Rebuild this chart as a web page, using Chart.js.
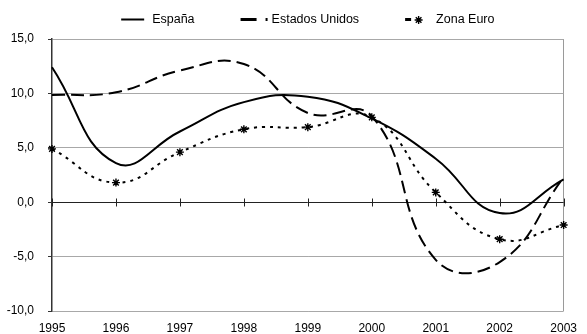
<!DOCTYPE html>
<html>
<head>
<meta charset="utf-8">
<script src="https://cdn.jsdelivr.net/npm/chart.js@4"></script>
<style>
  body { margin: 0; background: #fff; }
  canvas { display: block; }
</style>
</head>
<body>
<canvas id="chart" width="587" height="334"></canvas>
<script>
const years = ['1995', '1996', '1997', '1998', '1999', '2000', '2001', '2002', '2003'];
const espana = [12.4, 3.6, 6.5, 9.2, 9.7, 7.7, 4.0, -1.0, 2.1];
const estadosUnidos = [9.85, 10.1, 12.1, 12.7, 8.2, 7.9, -5.3, -5.5, 2.3];
const zonaEuro = [4.9, 1.8, 4.6, 6.7, 6.9, 7.8, 0.9, -3.4, -2.1];

const FONT = "'Liberation Sans', Arial, sans-serif";

// zero line across the plot with year ticks crossing it
const zeroAxis = {
    id: 'zeroAxis',
    beforeDatasetsDraw(chart) {
        const { ctx, chartArea, scales: { x, y } } = chart;
        const y0 = Math.round(y.getPixelForValue(0)) + 0.5;
        ctx.save();
        ctx.strokeStyle = '#222';
        ctx.lineWidth = 1;
        ctx.beginPath();
        ctx.moveTo(chartArea.left, y0);
        ctx.lineTo(chartArea.right, y0);
        x.ticks.forEach((t, i) => {
            const px = Math.round(x.getPixelForTick(i)) + 0.5;
            ctx.moveTo(px, y0 - 4);
            ctx.lineTo(px, y0 + 4);
        });
        ctx.stroke();
        ctx.restore();
    }
};

// one-row legend above the plot, centred on the chart area
const legendRow = {
    id: 'legendRow',
    afterDraw(chart) {
        const { ctx, chartArea } = chart;
        const sample = 27, textGap = 4, itemGap = 46, midY = 20;
        ctx.save();
        ctx.font = '12.5px ' + FONT;
        ctx.textBaseline = 'middle';
        ctx.fillStyle = '#000';
        const items = chart.data.datasets.map(ds => ({ ds, w: sample + textGap + ctx.measureText(ds.label).width }));
        const total = items.reduce((s, it) => s + it.w, 0) + itemGap * (items.length - 1);
        let x0 = (chartArea.left + chartArea.right) / 2 - total / 2;
        items.forEach(({ ds, w }) => {
            ctx.strokeStyle = ds.borderColor;
            ctx.lineWidth = ds.legendLineWidth || ds.borderWidth;
            ctx.setLineDash(ds.legendDash || ds.borderDash || []);
            ctx.beginPath();
            ctx.moveTo(x0, midY - 0.5);
            ctx.lineTo(x0 + (ds.legendLineLength || sample - 4), midY - 0.5);
            ctx.stroke();
            ctx.setLineDash([]);
            if (ds.pointStyle) {
                ctx.lineWidth = ds.pointBorderWidth;
                Chart.helpers.drawPoint(ctx, {
                    pointStyle: ds.pointStyle,
                    radius: ds.pointRadius,
                    borderWidth: ds.pointBorderWidth,
                    rotation: 0
                }, x0 + 13.5, midY);
            }
            ctx.fillText(ds.label, x0 + sample + textGap, midY);
            x0 += w + itemGap;
        });
        ctx.restore();
    }
};

const fmt = v => v.toFixed(1).replace('.', ',');

new Chart(document.getElementById('chart'), {
    type: 'line',
    data: {
        labels: years,
        datasets: [
            {
                label: 'España',
                data: espana,
                borderColor: '#000',
                borderWidth: 2,
                pointRadius: 0,
                tension: 0.45,
                legendLineLength: 23
            },
            {
                label: 'Estados Unidos',
                data: estadosUnidos,
                borderColor: '#000',
                borderWidth: 2,
                borderDash: [13, 6],
                pointRadius: 0,
                tension: 0.45,
                legendLineWidth: 3,
                legendDash: [16, 9, 2, 20],
                legendLineLength: 27
            },
            {
                label: 'Zona Euro',
                data: zonaEuro,
                borderColor: '#000',
                borderWidth: 2,
                borderDash: [3, 5],
                pointStyle: 'star',
                pointRadius: 4,
                pointBorderWidth: 1.4,
                pointBorderColor: '#000',
                pointBackgroundColor: '#000',
                tension: 0.45,
                legendLineWidth: 3,
                legendDash: [],
                legendLineLength: 6
            }
        ]
    },
    options: {
        responsive: false,
        animation: false,
        layout: {
            padding: { top: 39, right: 18, left: 0, bottom: 0 }
        },
        plugins: {
            legend: { display: false },
            tooltip: { enabled: false }
        },
        scales: {
            x: {
                afterFit: scale => { scale.height = 23; },
                border: { display: false },
                grid: {
                    drawTicks: false,
                    color: ctx => ctx.index === years.length - 1 ? '#9a9a9a' : 'transparent'
                },
                ticks: {
                    padding: 10,
                    color: '#000',
                    maxRotation: 0,
                    font: { family: FONT, size: 12 }
                }
            },
            y: {
                min: -10,
                max: 15,
                afterFit: scale => { scale.width = 52; },
                border: { color: '#333', width: 1.5 },
                grid: {
                    tickLength: 4,
                    tickColor: '#333',
                    color: ctx => ctx.tick && ctx.tick.value === 0 ? 'transparent' : '#a8a8a8'
                },
                ticks: {
                    stepSize: 5,
                    padding: 14,
                    color: '#000',
                    font: { family: FONT, size: 12 },
                    callback: fmt
                }
            }
        }
    },
    plugins: [zeroAxis, legendRow]
});
</script>
</body>
</html>
